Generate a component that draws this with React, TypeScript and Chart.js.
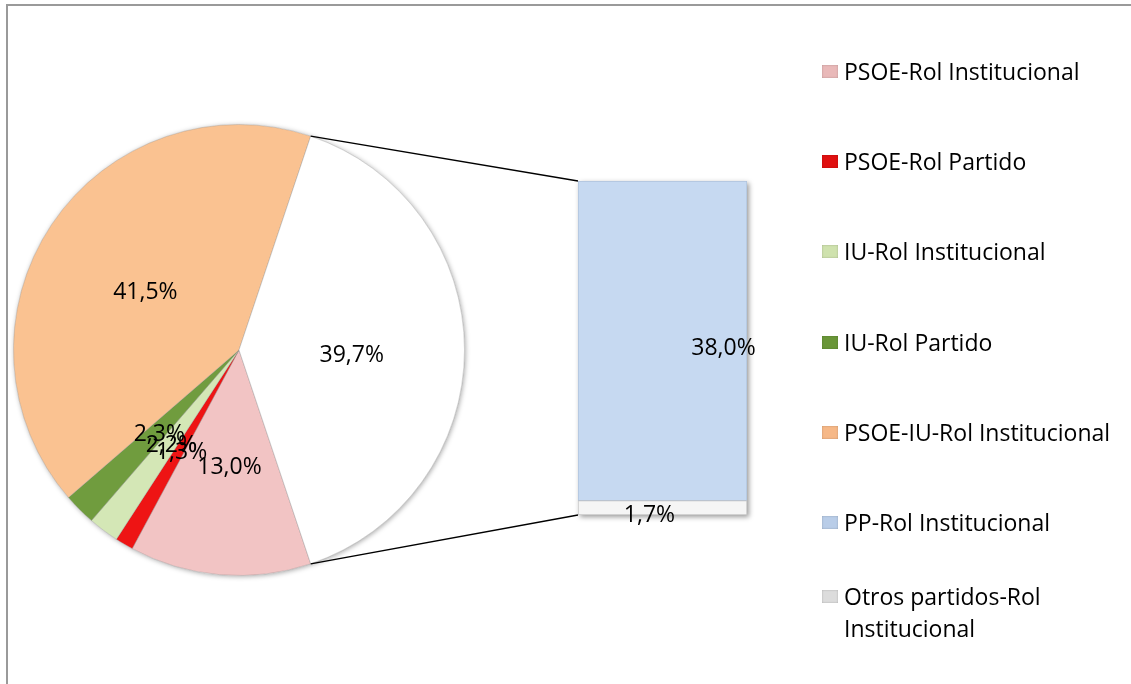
import React, { useEffect, useRef } from "react";
import { Chart, registerables } from "chart.js";
Chart.register(...registerables);

// ---- data ----
const pieLabels = [
  "PSOE-Rol Institucional",
  "PSOE-Rol Partido",
  "IU-Rol Institucional",
  "IU-Rol Partido",
  "PSOE-IU-Rol Institucional",
  "Otros",
];
const pieValues = [13.0, 1.3, 2.2, 2.3, 41.5, 39.7];
const pieColors = ["#F2C4C4", "#EE1414", "#D4E7B6", "#709C3E", "#FAC291", "#FFFFFF"];

const barLabels = ["Otros partidos-Rol Institucional", "PP-Rol Institucional"];
const barValues = [1.7, 38.0];
const barColors = ["#F5F5F5", "#C6D9F1"];

const legendLabels = [
  "PSOE-Rol Institucional",
  "PSOE-Rol Partido",
  "IU-Rol Institucional",
  "IU-Rol Partido",
  "PSOE-IU-Rol Institucional",
  "PP-Rol Institucional",
  "Otros partidos-Rol Institucional",
];
const legendColors = ["#E9B9B9", "#E01010", "#CFE2AE", "#6A9638", "#F6B887", "#B9CDE8", "#DCDCDC"];

const fmt = (v: number) => v.toFixed(1).replace(".", ",") + "%";
const FONT = "'Open Sans', 'Noto Sans', sans-serif";

export default function App() {
  const pieRef = useRef<HTMLCanvasElement>(null);
  const barRef = useRef<HTMLCanvasElement>(null);

  useEffect(() => {
    document.body.style.margin = "0";
    const total = pieValues.reduce((a, b) => a + b, 0);
    const otherShare = pieValues[pieValues.length - 1] / total;
    const rotation = 90 + otherShare * 180;

    const pieShadow = {
      id: "pieShadow",
      beforeDatasetsDraw(chart: any) {
        const arc = chart.getDatasetMeta(0).data[0];
        if (!arc) return;
        const ctx = chart.ctx;
        ctx.save();
        ctx.beginPath();
        ctx.arc(arc.x, arc.y, arc.outerRadius, 0, Math.PI * 2);
        ctx.shadowColor = "rgba(0,0,0,0.35)";
        ctx.shadowBlur = 5;
        ctx.shadowOffsetX = 1;
        ctx.shadowOffsetY = 1;
        ctx.fillStyle = "#ffffff";
        ctx.fill();
        ctx.restore();
      },
    };

    const pieLabelsPlugin = {
      id: "pieLabels",
      afterDatasetsDraw(chart: any) {
        const ctx = chart.ctx;
        const meta = chart.getDatasetMeta(0);
        ctx.save();
        ctx.font = `23px ${FONT}`;
        ctx.fillStyle = "#000";
        ctx.textAlign = "center";
        ctx.textBaseline = "middle";
        meta.data.forEach((arc: any, i: number) => {
          const p = arc.tooltipPosition();
          ctx.fillText(fmt(pieValues[i]), p.x, p.y + 5);
        });
        ctx.restore();
      },
    };

    const pie = new Chart(pieRef.current!, {
      type: "pie",
      data: {
        labels: pieLabels,
        datasets: [
          {
            data: pieValues,
            backgroundColor: pieColors,
            borderColor: "rgba(140,140,140,0.35)",
            borderWidth: 1,
            hoverOffset: 0,
          },
        ],
      },
      options: {
        animation: false,
        responsive: false,
        rotation,
        layout: { padding: { left: 13, top: 124, right: 666, bottom: 108 } },
        plugins: { legend: { display: false }, tooltip: { enabled: false } },
        events: [],
      },
      plugins: [pieShadow, pieLabelsPlugin],
    });

    const connectors = {
      id: "connectors",
      afterDatasetsDraw(chart: any) {
        const ctx = chart.ctx;
        const arcs = pie.getDatasetMeta(0).data as any[];
        const other = arcs[arcs.length - 1];
        const bottomBar = chart.getDatasetMeta(0).data[0] as any;
        const topBar = chart.getDatasetMeta(1).data[0] as any;
        if (!other || !bottomBar || !topBar) return;
        const r = other.outerRadius;
        const sx = other.x + r * Math.cos(other.startAngle);
        const sy = other.y + r * Math.sin(other.startAngle);
        const ex = other.x + r * Math.cos(other.endAngle);
        const ey = other.y + r * Math.sin(other.endAngle);
        const left = topBar.x - topBar.width / 2;
        ctx.save();
        ctx.strokeStyle = "#000";
        ctx.lineWidth = 1.3;
        ctx.beginPath();
        ctx.moveTo(sx, sy);
        ctx.lineTo(left, topBar.y);
        ctx.moveTo(ex, ey);
        ctx.lineTo(left, bottomBar.base);
        ctx.stroke();
        ctx.restore();
      },
    };

    const barShadow = {
      id: "barShadow",
      beforeDatasetsDraw(chart: any) {
        const top = chart.getDatasetMeta(1).data[0] as any;
        const bot = chart.getDatasetMeta(0).data[0] as any;
        if (!top || !bot) return;
        const ctx = chart.ctx;
        ctx.save();
        ctx.shadowColor = "rgba(0,0,0,0.4)";
        ctx.shadowBlur = 5;
        ctx.shadowOffsetX = 2;
        ctx.shadowOffsetY = 2;
        ctx.fillStyle = "#ffffff";
        ctx.fillRect(top.x - top.width / 2, top.y, top.width, bot.base - top.y);
        ctx.restore();
      },
    };

    const barLabelPlugin = {
      id: "barLabels",
      afterDatasetsDraw(chart: any) {
        const ctx = chart.ctx;
        ctx.save();
        ctx.font = `23px ${FONT}`;
        ctx.fillStyle = "#000";
        ctx.textAlign = "center";
        ctx.textBaseline = "middle";
        const offsets = [
          { dx: -13, dy: 8 },
          { dx: 61, dy: 8 },
        ];
        chart.data.datasets.forEach((ds: any, i: number) => {
          const el = chart.getDatasetMeta(i).data[0] as any;
          const cy = (el.y + el.base) / 2;
          ctx.fillText(fmt(ds.data[0]), el.x + offsets[i].dx, cy + offsets[i].dy);
        });
        ctx.restore();
      },
    };

    const bar = new Chart(barRef.current!, {
      type: "bar",
      data: {
        labels: [""],
        datasets: barLabels.map((l, i) => ({
          label: l,
          data: [barValues[i]],
          backgroundColor: barColors[i],
          borderColor: i === 1 ? "#AFC2DB" : "#C4C4C4",
          borderWidth: 1,
          borderSkipped: false,
          barPercentage: 1,
          categoryPercentage: 1,
        })),
      },
      options: {
        animation: false,
        responsive: false,
        layout: { padding: { left: 578, right: 384, top: 181, bottom: 169 } },
        scales: {
          x: { stacked: true, display: false },
          y: { stacked: true, display: false, min: 0, max: barValues.reduce((a, b) => a + b, 0) },
        },
        plugins: { legend: { display: false }, tooltip: { enabled: false } },
        events: [],
      },
      plugins: [barShadow, connectors, barLabelPlugin],
    });

    return () => {
      bar.destroy();
      pie.destroy();
    };
  }, []);

  return (
    <div style={{ position: "relative", width: 1131, height: 684, overflow: "hidden", background: "#fff" }}>
      <div
        style={{
          position: "absolute",
          left: 6,
          top: 4,
          width: 1200,
          height: 800,
          borderTop: "2px solid #9a9a9a",
          borderLeft: "2px solid #9a9a9a",
        }}
      />
      <canvas ref={pieRef} width={1131} height={684} style={{ position: "absolute", left: 0, top: 0 }} />
      <canvas ref={barRef} width={1131} height={684} style={{ position: "absolute", left: 0, top: 0 }} />
      <div style={{ position: "absolute", left: 822, top: 26, fontFamily: FONT, fontSize: 23, color: "#000" }}>
        {legendLabels.map((l, i) => (
          <div key={l} style={{ display: "flex", alignItems: "center", height: 90.2 }}>
            <div style={{ display: "flex", alignItems: "flex-start" }}>
              <span
                style={{
                  display: "inline-block",
                  width: 16,
                  height: 13,
                  marginTop: 10,
                  marginRight: 6,
                  background: legendColors[i],
                  boxShadow: "inset 0 0 2px rgba(0,0,0,0.25)",
                  flex: "none",
                }}
              />
              <span style={{ lineHeight: "32px", width: 285 }}>{l}</span>
            </div>
          </div>
        ))}
      </div>
    </div>
  );
}
